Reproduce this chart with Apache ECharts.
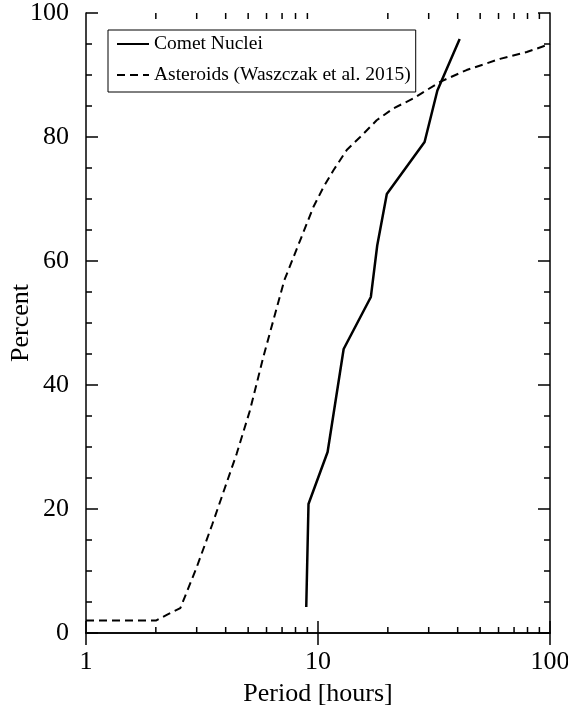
<!DOCTYPE html>
<html>
<head>
<meta charset="utf-8">
<script src="https://cdn.jsdelivr.net/npm/echarts@6/dist/echarts.min.js"></script>
<style>
html,body{margin:0;padding:0;background:#fff;}
#chart{width:568px;height:710px;}
</style>
</head>
<body>
<div id="chart"></div>
<script>
// Comet nuclei: [period (hours), cumulative percent]
const cometPeriod = [8.9, 9.1, 11.0, 12.9, 16.9, 18.0, 19.8, 28.8, 32.7, 40.8];
const cometPercent = [4.2, 20.8, 29.2, 45.8, 54.2, 62.5, 70.8, 79.2, 87.5, 95.8];

// Asteroids (Waszczak et al. 2015)
const asteroidPeriod = [1.0, 2.0, 2.25, 2.55, 3.0, 3.5, 4.46, 5.09, 5.81, 7.16, 8.37, 9.55, 10.55, 11.64, 13.3, 15.2, 17.9, 21.1, 25.7, 33.6, 43.7, 60.9, 79.4, 100];
const asteroidPercent = [2.0, 2.0, 3.0, 4.0, 10.6, 17.5, 28.9, 35.9, 44.5, 56.9, 63.3, 68.7, 71.9, 74.6, 77.9, 80.0, 82.7, 84.6, 86.2, 88.9, 90.8, 92.6, 93.7, 95.0];

// Minor ticks of the log axis
const minorTickValues = [2, 3, 4, 5, 6, 7, 8, 9, 20, 30, 40, 50, 60, 70, 80, 90];

const seriesNames = ['Comet Nuclei', 'Asteroids (Waszczak et al. 2015)'];
const xAxisName = 'Period [hours]';
const yAxisName = 'Percent';

const FONT = 'Liberation Serif';
const chart = echarts.init(document.getElementById('chart'), null, {renderer: 'canvas'});

const zip = (a, b) => a.map((v, i) => [v, b[i]]);

const axisCommonY = {
  type: 'value', min: 0, max: 100, interval: 20,
  axisLine: {show: true, lineStyle: {color: '#000', width: 1.5}},
  axisTick: {show: true, inside: true, length: 12, lineStyle: {color: '#000', width: 1.5}},
  minorTick: {show: true, splitNumber: 4, length: 6, lineStyle: {color: '#000', width: 1.5}},
  splitLine: {show: false},
  minorSplitLine: {show: false}
};
const axisCommonX = {
  type: 'log', logBase: 10, min: 1, max: 100,
  axisLine: {show: true, lineStyle: {color: '#000', width: 1.5}},
  axisTick: {show: true, inside: true, length: 12, lineStyle: {color: '#000', width: 1.5}},
  splitLine: {show: false}
};

const option = {
  backgroundColor: '#fff',
  animation: false,
  grid: {left: 86, right: 18, top: 13, bottom: 77, containLabel: false, outerBoundsMode: 'none'},
  legend: {
    data: seriesNames,
    orient: 'vertical',
    left: 108, top: 30,
    borderColor: '#000', borderWidth: 1,
    padding: [4, 5, 7, 8],
    itemWidth: 32, itemHeight: 14, itemGap: 11,
    itemStyle: {color: 'rgba(0,0,0,0)', borderColor: 'rgba(0,0,0,0)', borderWidth: 0, opacity: 0},
    textStyle: {fontFamily: FONT, fontSize: 19.5, color: '#000', lineHeight: 20},
    selectedMode: false
  },
  xAxis: [
    Object.assign({}, axisCommonX, {
      position: 'bottom',
      name: xAxisName, nameLocation: 'middle', nameGap: 48, nameMoveOverlap: false,
      nameTextStyle: {fontFamily: FONT, fontSize: 26, color: '#000'},
      axisLabel: {show: true, margin: 16, fontFamily: FONT, fontSize: 26, color: '#000'}
    }),
    Object.assign({}, axisCommonX, {
      position: 'top',
      axisLabel: {show: false}
    })
  ],
  yAxis: [
    Object.assign({}, axisCommonY, {
      position: 'left',
      name: yAxisName, nameLocation: 'middle', nameGap: 52, nameRotate: 90, nameMoveOverlap: false,
      nameTextStyle: {fontFamily: FONT, fontSize: 26, color: '#000'},
      axisLabel: {show: true, margin: 17, fontFamily: FONT, fontSize: 26, color: '#000'}
    }),
    Object.assign({}, axisCommonY, {
      position: 'right',
      axisLabel: {show: false}
    })
  ],
  series: [
    {
      name: seriesNames[0], type: 'line',
      data: zip(cometPeriod, cometPercent),
      symbol: 'none', showSymbol: false,
      lineStyle: {color: '#000', width: 2.5, type: 'solid'},
      itemStyle: {color: '#000'}
    },
    {
      name: seriesNames[1], type: 'line',
      data: zip(asteroidPeriod, asteroidPercent),
      symbol: 'none', showSymbol: false,
      lineStyle: {color: '#000', width: 2, type: [8, 5]},
      itemStyle: {color: '#000'}
    },
    {
      name: 'minorTicks', type: 'custom',
      data: minorTickValues.map(v => [v]),
      silent: true,
      renderItem: function (params, api) {
        const v = api.value(0);
        const b = api.coord([v, 0]);
        const t = api.coord([v, 100]);
        const style = {stroke: '#000', lineWidth: 1.5};
        return {
          type: 'group',
          children: [
            {type: 'line', shape: {x1: b[0], y1: b[1], x2: b[0], y2: b[1] - 6}, style: style},
            {type: 'line', shape: {x1: t[0], y1: t[1], x2: t[0], y2: t[1] + 6}, style: style}
          ]
        };
      }
    }
  ]
};
chart.setOption(option);
</script>
</body>
</html>
